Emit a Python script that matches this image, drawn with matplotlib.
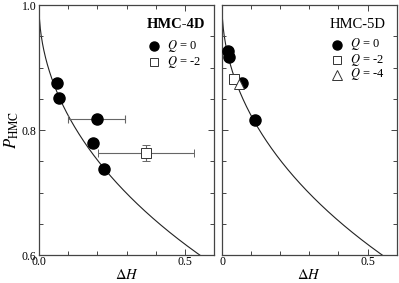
import numpy as np
import matplotlib
matplotlib.use("Agg")
import matplotlib.pyplot as plt
from math import erfc

plt.rcParams['font.family'] = ['Liberation Serif', 'DejaVu Serif']
plt.rcParams['mathtext.fontset'] = 'stix'

# Data: HMC-4D
d4_q0_dH = [0.060, 0.069, 0.197, 0.185, 0.223]
d4_q0_P = [0.875, 0.852, 0.818, 0.780, 0.738]
d4_q0_xerr = [0.0, 0.0, 0.098, 0.0, 0.0]
d4_q2_dH = [0.367]
d4_q2_P = [0.763]
d4_q2_xerr = [0.164]
d4_q2_yerr = [0.013]

# Data: HMC-5D
d5_q0_dH = [0.019, 0.025, 0.067, 0.114]
d5_q0_P = [0.927, 0.917, 0.876, 0.816]
d5_q2_dH = [0.041]
d5_q2_P = [0.881]
d5_q4_dH = [0.058]
d5_q4_P = [0.874]

xticks_left = [0.0, 0.5]
xticklabels_left = ['0.0', '0.5']
xticks_right = [0.0, 0.5]
xticklabels_right = ['0', '0.5']
yticks = [0.6, 0.8, 1.0]
yticklabels = ['0.6', '0.8', '1.0']

W, H = 399, 283
fig = plt.figure(figsize=(W/100, H/100), dpi=100)
axL = fig.add_axes([39/W, 1-255/H, (214.3-39)/W, 250/H])
axR = fig.add_axes([222/W, 1-255/H, (396.7-222)/W, 250/H])

xc = np.linspace(0, 0.6, 400)
pc = np.array([erfc(np.sqrt(x)/2) for x in xc])

spine_c = '#444444'
for ax in (axL, axR):
    ax.plot(xc, pc, color='#222222', lw=0.8, zorder=1)
    ax.set_xlim(0, 0.6)
    ax.set_ylim(0.6, 1.0)
    ax.set_xticks(np.arange(0, 0.61, 0.1), minor=True)
    ax.set_yticks(np.arange(0.6, 1.001, 0.05), minor=True)
    ax.tick_params(which='both', direction='in', top=True, right=True,
                   color=spine_c, width=0.7, labelsize=8.5, pad=2)
    ax.tick_params(axis='x', pad=1)
    ax.tick_params(which='major', length=4)
    ax.tick_params(which='minor', length=3)
    for s in ax.spines.values():
        s.set_color(spine_c)
        s.set_linewidth(0.9)
    ax.set_xlabel(r'$\Delta H$', fontsize=10.5, labelpad=0)

axL.set_xticks(xticks_left)
axL.set_xticklabels(xticklabels_left)
axL.set_yticks(yticks)
axL.set_yticklabels(yticklabels)
axL.set_ylabel(r'$P_{\rm HMC}$', fontsize=12, labelpad=0)
axR.set_xticks(xticks_right)
axR.set_xticklabels(xticklabels_right)
axR.set_yticks(yticks)
axR.set_yticklabels([])

ms = 8
axL.errorbar(d4_q0_dH, d4_q0_P, xerr=d4_q0_xerr, fmt='o', color='black', ms=ms,
             ecolor='#666666', elinewidth=0.8, capsize=3, capthick=0.8, zorder=3)
axL.errorbar(d4_q2_dH, d4_q2_P, xerr=d4_q2_xerr, yerr=d4_q2_yerr, fmt='s', mfc='white',
             mec='#333333', mew=0.7, ms=6.5, ecolor='#666666', elinewidth=0.8, capsize=3,
             capthick=0.8, zorder=3)

axR.plot(d5_q0_dH, d5_q0_P, 'o', color='black', ms=ms, zorder=3)
axR.plot(d5_q2_dH, d5_q2_P, 's', mfc='white', mec='#333333', mew=0.7, ms=6.5, zorder=3)
axR.plot(d5_q4_dH, d5_q4_P, '^', mfc='white', mec='#333333', mew=0.7, ms=7.5, zorder=4)

# Manual legends
mk_styles = {
    'o': dict(marker='o', color='black', ms=6.5),
    's': dict(marker='s', mfc='white', mec='#333333', mew=0.7, ms=5.5),
    '^': dict(marker='^', mfc='white', mec='#333333', mew=0.7, ms=6.5),
}

def draw_legend(ax, title, bold, tx, ty, mx, lx, rows, entries):
    ax.text(tx, ty, title, transform=ax.transAxes, ha='center', va='center',
            fontsize=10.5, fontweight='bold' if bold else 'normal')
    for y, (m, lab) in zip(rows, entries):
        ax.plot([mx], [y], ls='none', transform=ax.transAxes, clip_on=False, **mk_styles[m])
        ax.text(lx, y, lab, transform=ax.transAxes, ha='left', va='center', fontsize=9)

draw_legend(axL, 'HMC-4D', True, 0.779, 0.92, 0.658, 0.73, [0.837, 0.773],
            [('o', r'$Q$ = 0'), ('s', r'$Q$ = -2')])
draw_legend(axR, 'HMC-5D', False, 0.776, 0.92, 0.657, 0.735, [0.842, 0.781, 0.722],
            [('o', r'$Q$ = 0'), ('s', r'$Q$ = -2'), ('^', r'$Q$ = -4')])

fig.savefig('out.png', dpi=100)
